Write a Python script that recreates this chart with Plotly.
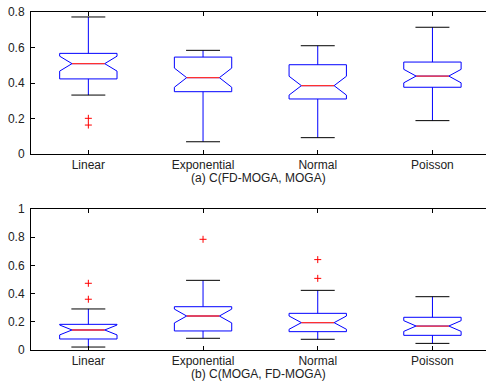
import plotly.graph_objects as go

cats = ["Linear", "Exponential", "Normal", "Poisson"]
pos = [1, 2, 3, 4]

# panel (a) C(FD-MOGA, MOGA)
a_upper = [0.772, 0.584, 0.610, 0.714]
a_q3 = [0.567, 0.546, 0.503, 0.518]
a_med = [0.509, 0.430, 0.385, 0.439]
a_q1 = [0.423, 0.351, 0.310, 0.376]
a_lower = [0.332, 0.069, 0.092, 0.188]
a_notch = [0.042, 0.054, 0.053, 0.038]
a_out_x = [1, 1]
a_out_y = [0.201, 0.163]

# panel (b) C(MOGA, FD-MOGA)
b_upper = [0.291, 0.494, 0.423, 0.378]
b_q3 = [0.182, 0.307, 0.260, 0.232]
b_med = [0.142, 0.241, 0.194, 0.170]
b_q1 = [0.078, 0.135, 0.130, 0.104]
b_lower = [0.021, 0.083, 0.076, 0.047]
b_notch = [0.035, 0.049, 0.047, 0.038]
b_out_x = [1, 1, 2, 3, 3]
b_out_y = [0.473, 0.360, 0.785, 0.641, 0.508]

a_ticks = [0, 0.2, 0.4, 0.6, 0.8]
a_ticktext = ["0", "0.2", "0.4", "0.6", "0.8"]
b_ticks = [0, 0.2, 0.4, 0.6, 0.8, 1.0]
b_ticktext = ["0", "0.2", "0.4", "0.6", "0.8", "1"]

BOXW = 0.5
NOTCHW = 0.215
CAPH = 0.148
MEDH = BOXW / 2 * (1 - 2 * NOTCHW)

fig = go.Figure()


def add_panel(xa, ya, q1, med, q3, lo, hi, notch, ox, oy):
    fig.add_trace(go.Box(
        x=pos, q1=q1, median=med, q3=q3, lowerfence=lo, upperfence=hi,
        notchspan=notch, notched=True, notchwidth=NOTCHW, width=BOXW,
        whiskerwidth=0, boxpoints=False,
        line=dict(color="#0000ff", width=1), fillcolor="rgba(0,0,0,0)",
        xaxis=xa, yaxis=ya, showlegend=False, hoverinfo="skip"))
    # caps (black)
    cx, cy = [], []
    for p, l, h in zip(pos, lo, hi):
        cx += [p - CAPH, p + CAPH, None, p - CAPH, p + CAPH, None]
        cy += [l, l, None, h, h, None]
    fig.add_trace(go.Scatter(x=cx, y=cy, mode="lines",
                             line=dict(color="#000000", width=1),
                             xaxis=xa, yaxis=ya, showlegend=False, hoverinfo="skip"))
    # medians (red)
    mx, my = [], []
    for p, m in zip(pos, med):
        mx += [p - MEDH, p + MEDH, None]
        my += [m, m, None]
    fig.add_trace(go.Scatter(x=mx, y=my, mode="lines",
                             line=dict(color="#ff3030", width=1.3),
                             xaxis=xa, yaxis=ya, showlegend=False, hoverinfo="skip"))
    # outliers
    fig.add_trace(go.Scatter(x=ox, y=oy, mode="markers",
                             marker=dict(symbol="cross-thin", size=5,
                                         line=dict(color="#ff0000", width=1)),
                             xaxis=xa, yaxis=ya, showlegend=False, hoverinfo="skip"))


add_panel("x", "y", a_q1, a_med, a_q3, a_lower, a_upper, a_notch, a_out_x, a_out_y)
add_panel("x2", "y2", b_q1, b_med, b_q3, b_lower, b_upper, b_notch, b_out_x, b_out_y)

font = dict(family="Liberation Sans, Arial, sans-serif", size=12, color="#222222")
xcommon = dict(range=[0.5, 4.467], tickvals=pos, ticktext=cats, showline=True,
               linecolor="black", linewidth=1, mirror="ticks", ticks="inside",
               ticklen=4, tickcolor="black", showgrid=False, zeroline=False,
               tickfont=font, fixedrange=True)
ycommon = dict(showline=True, linecolor="black", linewidth=1, mirror=False,
               ticks="inside", ticklen=4, tickcolor="black", showgrid=False,
               zeroline=False, tickfont=font, fixedrange=True, ticklabelstandoff=3)

fig.update_layout(
    width=486, height=381,
    margin=dict(l=31, r=0, t=12, b=31),
    paper_bgcolor="white", plot_bgcolor="white",
    font=font,
    xaxis=dict(domain=[0, 1], anchor="y", **xcommon),
    yaxis=dict(domain=[0.5799, 1], anchor="x", range=[0, 0.8],
               tickvals=a_ticks, ticktext=a_ticktext, **ycommon),
    xaxis2=dict(domain=[0, 1], anchor="y2", **xcommon),
    yaxis2=dict(domain=[0, 0.4172], anchor="x2", range=[0, 1.0],
                tickvals=b_ticks, ticktext=b_ticktext, **ycommon),
    annotations=[
        dict(text="(a) C(FD-MOGA, MOGA)", x=0.5, y=0.5083, xref="paper", yref="paper",
             showarrow=False, xanchor="center", yanchor="middle", font=font),
        dict(text="(b) C(MOGA, FD-MOGA)", x=0.5, y=-0.0714, xref="paper", yref="paper",
             showarrow=False, xanchor="center", yanchor="middle", font=font),
    ],
)

fig.write_html("out.html")
